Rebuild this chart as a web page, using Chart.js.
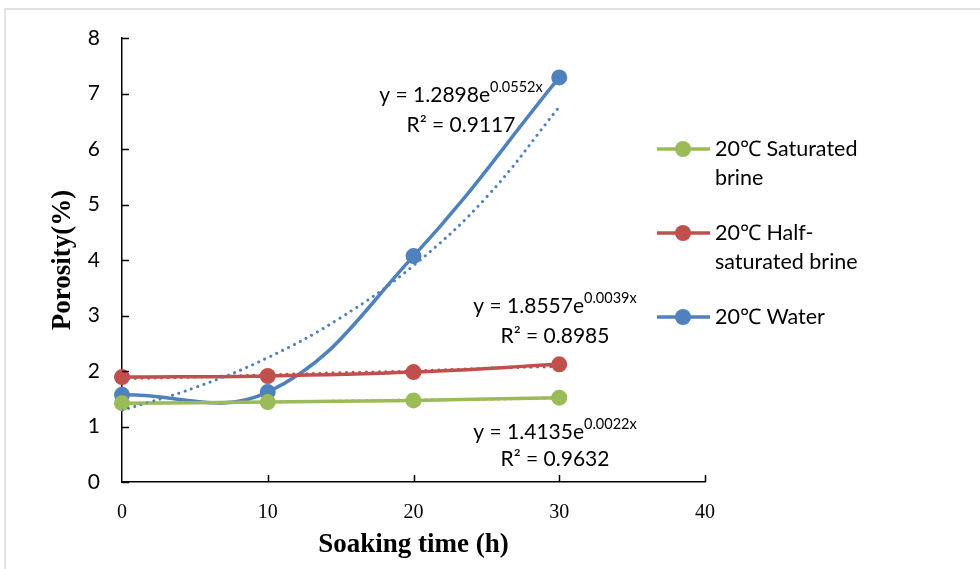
<!DOCTYPE html>
<html>
<head>
<meta charset="utf-8">
<script src="https://cdn.jsdelivr.net/npm/chart.js@4.4.1/dist/chart.umd.min.js"></script>
<style>
  html, body { margin: 0; padding: 0; background: #fff; }
  #wrap { width: 980px; height: 569px; position: relative; }
</style>
</head>
<body>
<div id="wrap"><canvas id="chart" width="980" height="569"></canvas></div>
<script>
// soaking time (h) and measured porosity (%)
const hours = [0, 10, 20, 30];
const saturated = [1.42, 1.44, 1.47, 1.52];
const halfSaturated = [1.89, 1.91, 1.98, 2.12];
const water = [1.57, 1.62, 4.07, 7.29];

// exponential trend lines
const trendHours = [0, 5, 10, 15, 20, 25, 30];
const trendSaturated = [1.41, 1.43, 1.44, 1.46, 1.48, 1.49, 1.51];
const trendHalf = [1.86, 1.89, 1.93, 1.97, 2.00, 2.05, 2.08];
const trendWater = [1.29, 1.70, 2.24, 2.96, 3.90, 5.13, 6.76];

const seriesNames = [['20℃ Saturated', 'brine'], ['20℃ Half-', 'saturated brine'], ['20℃ Water']];
const seriesColors = ['#9BBB59', '#C0504D', '#4F81BD'];

const eqA = ['1.4135', '1.8557', '1.2898'];
const eqB = ['0.0022', '0.0039', '0.0552'];
const eqR2 = ['0.9632', '0.8985', '0.9117'];

const xTicks = [0, 10, 20, 30, 40];
const yTicks = [0, 1, 2, 3, 4, 5, 6, 7, 8];

const pts = (xs, ys) => xs.map((x, i) => ({ x: x, y: ys[i] }));

const sans = 'Lato, "Open Sans", sans-serif';
const serif = '"Liberation Serif", "DejaVu Serif", serif';

function mainSet(label, values, color) {
    return {
        label: label,
        data: pts(hours, values),
        borderColor: color,
        backgroundColor: color,
        borderWidth: 3.5,
        pointRadius: 8,
        pointHoverRadius: 8,
        pointBorderWidth: 0,
        tension: 0.4,
        clip: false,
        order: 2
    };
}

function trendSet(values, color) {
    return {
        label: 'trend',
        data: pts(trendHours, values),
        borderColor: color,
        borderWidth: 3,
        borderDash: [0.1, 6.5],
        borderCapStyle: 'round',
        pointRadius: 0,
        tension: 0.4,
        order: 1
    };
}

// frame, inner tick marks, legend and trend equations
const extras = {
    id: 'extras',
    beforeDraw(chart) {
        const ctx = chart.ctx;
        ctx.save();
        ctx.strokeStyle = '#d9d9d9';
        ctx.lineWidth = 1.5;
        ctx.strokeRect(5, 9, 1100, 700);
        ctx.restore();
    },
    afterDraw(chart) {
        const ctx = chart.ctx;
        const xs = chart.scales.x;
        const ys = chart.scales.y;
        const area = chart.chartArea;
        ctx.save();
        ctx.strokeStyle = '#000';
        ctx.lineWidth = 1.5;
        ctx.beginPath();
        yTicks.forEach(v => {
            const py = Math.round(ys.getPixelForValue(v)) + 0.5;
            ctx.moveTo(area.left, py);
            ctx.lineTo(area.left + 7, py);
        });
        xTicks.slice(1).forEach(v => {
            const px = Math.round(xs.getPixelForValue(v)) + 0.5;
            ctx.moveTo(px, area.bottom);
            ctx.lineTo(px, area.bottom - 7);
        });
        ctx.stroke();

        // legend
        const legendY = [149, 233, 317];
        ctx.font = '21.5px ' + sans;
        ctx.textBaseline = 'middle';
        ctx.textAlign = 'left';
        seriesNames.forEach((lines, i) => {
            const y = legendY[i];
            ctx.strokeStyle = seriesColors[i];
            ctx.lineWidth = 3.5;
            ctx.beginPath();
            ctx.moveTo(657, y);
            ctx.lineTo(710, y);
            ctx.stroke();
            ctx.fillStyle = seriesColors[i];
            ctx.beginPath();
            ctx.arc(683, y, 8, 0, Math.PI * 2);
            ctx.fill();
            ctx.fillStyle = '#000';
            lines.forEach((t, j) => ctx.fillText(t, 715, y + j * 29));
        });

        // trend equations
        const eqPos = [[555, 432, 459], [555, 306, 336], [461, 95, 125]];
        eqA.forEach((a, i) => {
            const [cx, y1, y2] = eqPos[i];
            const head = 'y = ' + a + 'e';
            const sup = eqB[i] + 'x';
            ctx.font = '21px ' + sans;
            const w1 = ctx.measureText(head).width;
            ctx.font = '14.5px ' + sans;
            const w2 = ctx.measureText(sup).width;
            const x0 = cx - (w1 + w2) / 2;
            ctx.textAlign = 'left';
            ctx.font = '21px ' + sans;
            ctx.fillText(head, x0, y1);
            ctx.font = '14.5px ' + sans;
            ctx.fillText(sup, x0 + w1, y1 - 8);
            ctx.font = '21px ' + sans;
            ctx.textAlign = 'center';
            ctx.fillText('R² = ' + eqR2[i], cx, y2);
        });
        ctx.restore();
    }
};

new Chart(document.getElementById('chart'), {
    type: 'line',
    data: {
        datasets: [
            mainSet(seriesNames[0].join(' '), saturated, seriesColors[0]),
            mainSet(seriesNames[1].join(''), halfSaturated, seriesColors[1]),
            mainSet(seriesNames[2].join(' '), water, seriesColors[2]),
            trendSet(trendSaturated, seriesColors[0]),
            trendSet(trendHalf, seriesColors[1]),
            trendSet(trendWater, seriesColors[2])
        ]
    },
    options: {
        responsive: false,
        animation: false,
        layout: { padding: { left: 0, top: 38, right: 275, bottom: 0 } },
        plugins: {
            legend: { display: false },
            tooltip: { enabled: false }
        },
        scales: {
            x: {
                type: 'linear',
                min: 0,
                max: 40,
                afterFit: s => { s.height = 87; },
                afterBuildTicks: s => { s.ticks = xTicks.map(v => ({ value: v })); },
                grid: { drawOnChartArea: false, drawTicks: false },
                border: { color: '#000', width: 1.5 },
                ticks: { color: '#000', padding: 19, font: { family: serif, size: 20 } },
                title: {
                    display: true,
                    text: 'Soaking time (h)',
                    color: '#000',
                    font: { family: serif, size: 27, weight: 'bold' },
                    padding: { top: 0, bottom: 8 }
                }
            },
            y: {
                min: 0,
                max: 8,
                afterFit: s => { s.width = 122; },
                afterBuildTicks: s => { s.ticks = yTicks.map(v => ({ value: v })); },
                grid: { drawOnChartArea: false, drawTicks: false },
                border: { color: '#000', width: 1.5 },
                ticks: { color: '#000', padding: 22, font: { family: sans, size: 21 } },
                title: {
                    display: true,
                    text: 'Porosity(%)',
                    color: '#000',
                    font: { family: serif, size: 27, weight: 'bold' },
                    padding: { top: 47, bottom: 0 }
                }
            }
        }
    },
    plugins: [extras]
});
</script>
</body>
</html>
